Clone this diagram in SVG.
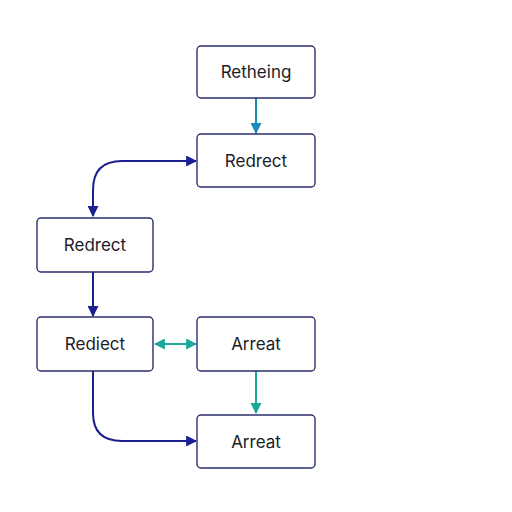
<svg xmlns="http://www.w3.org/2000/svg" width="512" height="512" viewBox="0 0 512 512">
<defs>
<style>
.node rect{fill:#fff;stroke:#2b2f6b;stroke-width:1.4}
.node text{font-family:Inter,"Liberation Sans",sans-serif;font-size:17px;fill:#1c1c28;text-anchor:middle;dominant-baseline:central}
.navy{stroke:#1b1f8f;stroke-width:2;fill:none}
.teal{stroke:#1aa89c;stroke-width:2;fill:none}
.blue{stroke:#1b8cba;stroke-width:2;fill:none}
</style>
<marker id="mn" viewBox="0 0 10 10" refX="9" refY="5" markerWidth="11" markerHeight="11" markerUnits="userSpaceOnUse" orient="auto-start-reverse"><path d="M0,0L10,5L0,10z" fill="#1b1f8f"/></marker>
<marker id="mt" viewBox="0 0 10 10" refX="9" refY="5" markerWidth="11" markerHeight="11" markerUnits="userSpaceOnUse" orient="auto-start-reverse"><path d="M0,0L10,5L0,10z" fill="#1aa89c"/></marker>
<marker id="mb" viewBox="0 0 10 10" refX="9" refY="5" markerWidth="11" markerHeight="11" markerUnits="userSpaceOnUse" orient="auto-start-reverse"><path d="M0,0L10,5L0,10z" fill="#1b8cba"/></marker>
</defs>
<rect width="512" height="512" fill="#fff"/>
<g id="connectors">
<path class="blue" d="M256,98V133" marker-end="url(#mb)"/>
<path class="navy" d="M196,161H122Q93,161 93,190V216" marker-start="url(#mn)" marker-end="url(#mn)"/>
<path class="navy" d="M93,272V316" marker-end="url(#mn)"/>
<path class="teal" d="M155,344H196" marker-start="url(#mt)" marker-end="url(#mt)"/>
<path class="teal" d="M256,371V413" marker-end="url(#mt)"/>
<path class="navy" d="M93,371V413Q93,441 122,441H196" marker-end="url(#mn)"/>
</g>
<g id="n1" class="node"><rect x="197" y="46" width="118" height="52" rx="4"/><text x="256" y="72">Retheing</text></g>
<g id="n2" class="node"><rect x="197" y="134" width="118" height="53" rx="4"/><text x="256" y="160.5">Redrect</text></g>
<g id="n3" class="node"><rect x="37" y="218" width="116" height="54" rx="4"/><text x="95" y="245">Redrect</text></g>
<g id="n4" class="node"><rect x="37" y="317" width="116" height="54" rx="4"/><text x="95" y="344">Rediect</text></g>
<g id="n5" class="node"><rect x="197" y="317" width="118" height="54" rx="4"/><text x="256" y="344">Arreat</text></g>
<g id="n6" class="node"><rect x="197" y="415" width="118" height="53" rx="4"/><text x="256" y="441.5">Arreat</text></g>
</svg>
